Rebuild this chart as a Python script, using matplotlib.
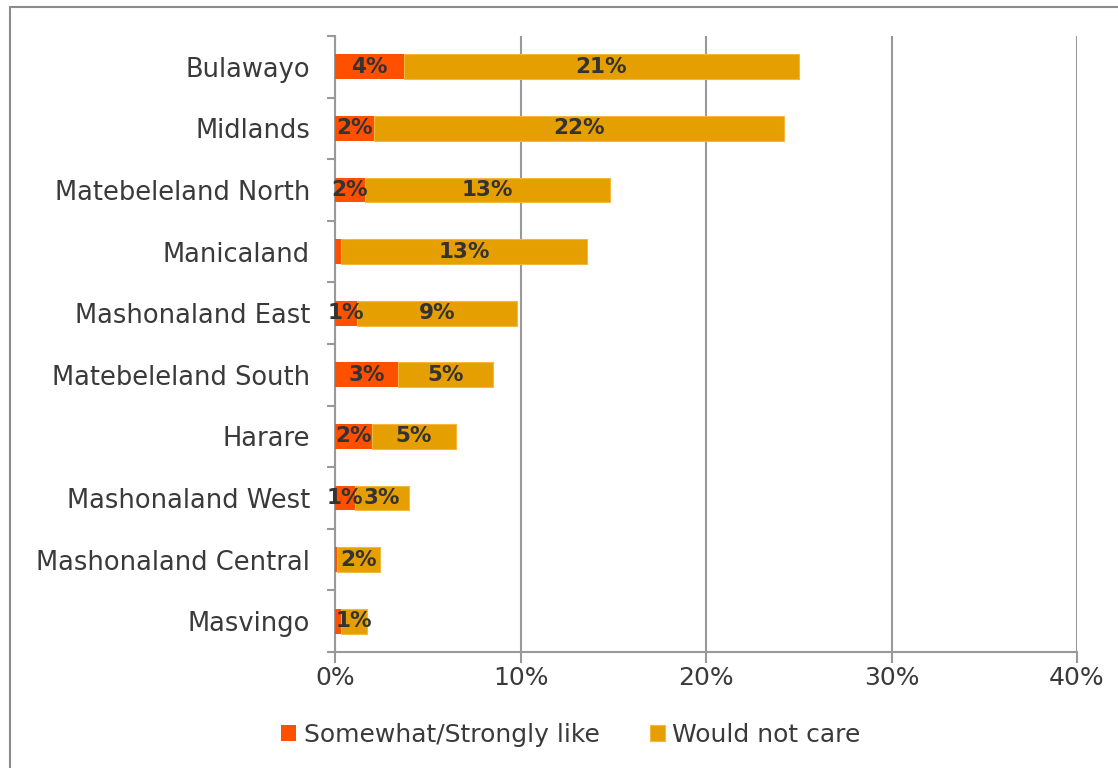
import matplotlib.pyplot as plt
from matplotlib.patches import Rectangle
import numpy as np

regions = ["Bulawayo", "Midlands", "Matebeleland North", "Manicaland",
           "Mashonaland East", "Matebeleland South", "Harare",
           "Mashonaland West", "Mashonaland Central", "Masvingo"]
like = [3.7, 2.1, 1.6, 0.3, 1.2, 3.4, 2.0, 1.1, 0.1, 0.3]
not_care = [21.3, 22.1, 13.2, 13.3, 8.6, 5.1, 4.5, 2.9, 2.3, 1.4]
like_labels = ["4%", "2%", "2%", "", "1%", "3%", "2%", "1%", "", ""]
care_labels = ["21%", "22%", "13%", "13%", "9%", "5%", "5%", "3%", "2%", "1%"]
xticks = [0, 10, 20, 30, 40]

plt.rcParams['font.family'] = ['DejaVu Sans']

fig = plt.figure(figsize=(11.18, 7.68), dpi=100)
ax = fig.add_axes([335 / 1118, 1 - 652 / 768, (1077 - 335) / 1118, (652 - 36) / 768])

# outer frame of the original slide chart
fig.patches.append(Rectangle((10 / 1118, -0.1), 1.2, 1.1 - 7 / 768, transform=fig.transFigure,
                             fill=False, edgecolor="#8c8c8c", linewidth=1.5))

y = np.arange(len(regions))
c1, c2 = "#FF5000", "#E69F00"
ax.barh(y, like, height=0.4, color=c1, label="Somewhat/Strongly like", zorder=3)
ax.barh(y, not_care, left=like, height=0.4, color=c2, edgecolor="#F2B840",
        linewidth=0.8, label="Would not care", zorder=3)

for i in range(len(regions)):
    if like_labels[i]:
        ax.text(like[i] / 2, y[i], like_labels[i], ha="center", va="center",
                fontsize=15.5, fontweight="bold", color="#333333", zorder=4)
    ax.text(like[i] + not_care[i] / 2, y[i], care_labels[i], ha="center", va="center",
            fontsize=15.5, fontweight="bold", color="#333333", zorder=4)

ax.set_xlim(0, 40)
ax.set_ylim(len(regions) - 0.5, -0.5)
ax.set_xticks(xticks)
ax.set_xticklabels([f"{t}%" for t in xticks], fontsize=18, color="#3a3a3a")
ax.set_yticks(y)
ax.set_yticklabels(regions, fontsize=18.5, color="#3a3a3a")
ax.set_yticks(np.arange(-0.5, len(regions), 1), minor=True)
ax.tick_params(axis="y", which="major", length=0, pad=18)
ax.tick_params(axis="y", which="minor", length=6, color="#999999", width=1.5)
ax.tick_params(axis="x", length=8, color="#999999", width=1.5, pad=2)

ax.grid(axis="x", color="#999999", linewidth=1.5, zorder=0)
for s in ["top", "right"]:
    ax.spines[s].set_visible(False)
for s in ["left", "bottom"]:
    ax.spines[s].set_color("#999999")
    ax.spines[s].set_linewidth(1.5)

ax.legend(loc="upper center", bbox_to_anchor=(0.318, -0.078), ncol=2, frameon=False,
          fontsize=18, handlelength=0.6, handleheight=0.6, handletextpad=0.3,
          columnspacing=2.0, labelcolor="#3a3a3a")

fig.savefig("out.png", dpi=100)
